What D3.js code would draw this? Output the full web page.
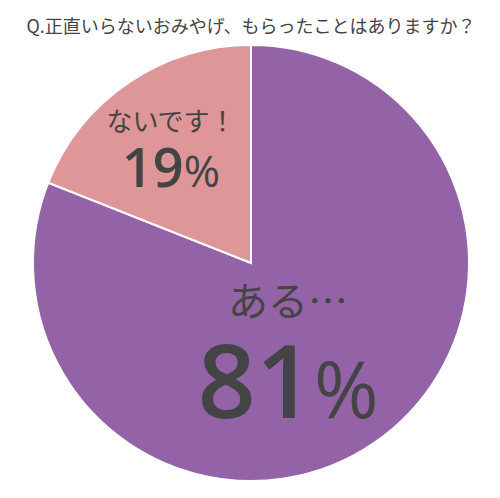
<!DOCTYPE html>
<html>
<head>
<meta charset="utf-8">
<script src="https://cdn.jsdelivr.net/npm/d3@7"></script>
<style>
  body { margin: 0; background: #fff; }
  svg { display: block; font-family: 'Noto Sans CJK JP', 'Noto Sans', sans-serif; }
</style>
</head>
<body>
<svg id="chart"></svg>
<script>
const title = 'Q.正直いらないおみやげ、もらったことはありますか？'
const categories = ['ある…', 'ないです！']
const values = [81, 19]
const colors = ['#9462a6', '#df9699']

const width = 500
const height = 498
const cx = 251
const cy = 263
const radius = 218

let svg = d3.select('#chart')
  .attr('width', width)
  .attr('height', height)

svg.append('text')
  .text(title)
  .attr('x', 251)
  .attr('y', 28)
  .attr('text-anchor', 'middle')
  .attr('dominant-baseline', 'middle')
  .attr('font-size', 18)
  .attr('fill', '#444')

let slices = categories.map((c, i) => ({name: c, value: values[i], color: colors[i]}))

// clockwise from 12 o'clock, first slice is the big one
let pie = d3.pie().sort(null).value((d) => d.value)
let arc = d3.arc().innerRadius(0).outerRadius(radius)

let g = svg.append('g').attr('transform', `translate(${cx},${cy})`)

let arcs = pie(slices)

g.selectAll('path.slice')
  .data(arcs)
  .enter()
  .append('path')
  .attr('class', 'slice')
  .attr('d', arc)
  .attr('fill', (d) => d.data.color)
  .attr('stroke', '#fff')
  .attr('stroke-width', 2)

// label layout per slice: offset from center, font sizes
let labelStyle = [
  {x: 37, nameY: 53, nameSize: 40, pctY: 155, pctSize: 102, signSize: 78, weight: 600},
  {x: -80, nameY: -132, nameSize: 26, pctY: -76, pctSize: 54, signSize: 44, weight: 600}
]

let labels = g.selectAll('g.label')
  .data(arcs)
  .enter()
  .append('g')
  .attr('class', 'label')
  .attr('fill', '#444')

labels.append('text')
  .attr('x', (d, i) => labelStyle[i].x)
  .attr('y', (d, i) => labelStyle[i].nameY)
  .attr('text-anchor', 'middle')
  .attr('font-size', (d, i) => labelStyle[i].nameSize)
  .text((d) => d.data.name)

let pct = labels.append('text')
  .attr('x', (d, i) => labelStyle[i].x)
  .attr('y', (d, i) => labelStyle[i].pctY)
  .attr('text-anchor', 'middle')
  .attr('font-family', "'Open Sans', sans-serif")
  .attr('font-size', (d, i) => labelStyle[i].pctSize)
  .attr('font-weight', (d, i) => labelStyle[i].weight)

pct.append('tspan').text((d) => d.data.value)
pct.append('tspan')
  .attr('font-size', (d, i) => labelStyle[i].signSize)
  .attr('font-weight', 400)
  .text('%')
</script>
</body>
</html>
